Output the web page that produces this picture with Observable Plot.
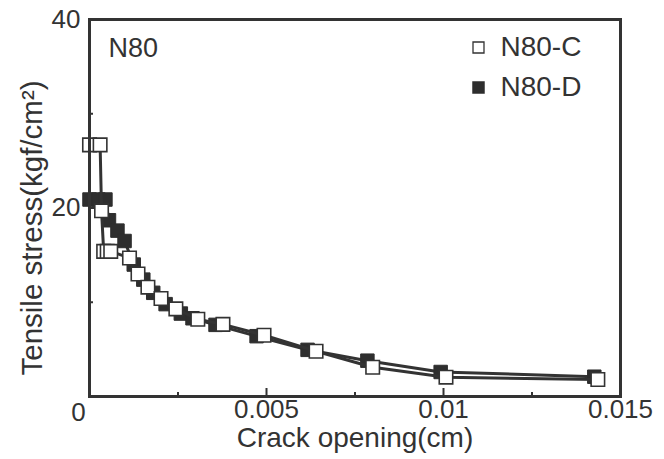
<!DOCTYPE html>
<html><head><meta charset="utf-8">
<script src="https://cdn.jsdelivr.net/npm/d3@7"></script>
<script src="https://cdn.jsdelivr.net/npm/@observablehq/plot@0.6"></script>
<style>body{margin:0;background:#fff} svg{font-family:"Liberation Sans",Arial,sans-serif}</style>
</head><body><div id="chart"></div>
<script>
// Series N80-C (open squares)
const cX = [0, 0.0003, 0.00034, 0.00040, 0.00050, 0.00060, 0.00113, 0.00137, 0.00165, 0.00202, 0.00244, 0.00306, 0.00377, 0.00493, 0.0064, 0.0080, 0.01007, 0.01436];
const cY = [26.7, 26.7, 19.7, 15.4, 15.4, 15.4, 14.7, 13.0, 11.6, 10.4, 9.3, 8.2, 7.65, 6.5, 4.8, 3.1, 2.05, 1.8];
// Series N80-D (filled squares)
const dX = [0, 0.00025, 0.00045, 0.00055, 0.00079, 0.00099, 0.00125, 0.00152, 0.00180, 0.00215, 0.00258, 0.00291, 0.00356, 0.00472, 0.00616, 0.00785, 0.00992, 0.01426];
const dY = [20.9, 20.9, 20.9, 18.7, 17.6, 16.5, 14.0, 12.4, 11.0, 9.8, 8.8, 8.3, 7.6, 6.4, 4.95, 3.8, 2.6, 2.1];

const seriesNames = ["N80-C", "N80-D"];
const xLabelTicks = [0.005, 0.01, 0.015];
const xOriginTick = [0];
const xMajorTicks = [0.005, 0.01];
const xMinorTicks = [0.0025, 0.0075, 0.0125];
const yLabelTicks = [20, 40];
const yMajorTicks = [20];
const yMinorTicks = [10, 30];
const xTitle = "Crack opening(cm)";
const yTitle = "Tensile stress(kgf/cm²)";
const panelTitle = "N80";

const ink = "#333";
const seriesC = cX.map((x, i) => ({series: seriesNames[0], x, y: cY[i]}));
const seriesD = dX.map((x, i) => ({series: seriesNames[1], x, y: dY[i]}));

const plot = Plot.plot({
  width: 664, height: 459,
  marginLeft: 89, marginRight: 44, marginTop: 19, marginBottom: 63,
  style: {fontFamily: "Liberation Sans, Arial, sans-serif", fontSize: "26px", color: ink, background: "#fff"},
  x: {domain: [0, 0.015], label: null},
  y: {domain: [0, 40], label: null},
  marks: [
    Plot.axisX(xLabelTicks, {tickSize: 0, tickPadding: 3, tickFormat: d => String(d), fontSize: 26, label: null}),
    Plot.axisX(xOriginTick, {tickSize: 0, tickPadding: 6, dx: -11, tickFormat: d => String(d), fontSize: 26, label: null}),
    Plot.axisX(xMajorTicks, {tickSize: -8, text: null, strokeWidth: 2, label: null}),
    Plot.axisX(xMinorTicks, {tickSize: -4, text: null, strokeWidth: 2, label: null}),
    Plot.axisY(yLabelTicks, {tickSize: 0, tickPadding: 9, fontSize: 26, label: null}),
    Plot.axisY(yMajorTicks, {tickSize: -8, text: null, strokeWidth: 2, label: null}),
    Plot.axisY(yMinorTicks, {tickSize: -4, text: null, strokeWidth: 2, label: null}),
    Plot.line(seriesD, {x: "x", y: "y", stroke: ink, strokeWidth: 3}),
    Plot.dot(seriesD, {x: "x", y: "y", symbol: "square", r: 7.6, fill: "#2e2e2e", stroke: "#2e2e2e", strokeWidth: 1}),
    Plot.line(seriesC, {x: "x", y: "y", stroke: ink, strokeWidth: 3}),
    Plot.dot(seriesC, {x: "x", y: "y", symbol: "square", r: 7.6, fill: "#fff", stroke: ink, strokeWidth: 1.6}),
    Plot.frame({stroke: ink, strokeWidth: 3}),
    Plot.text([panelTitle], {text: d => d, frameAnchor: "top-left", dx: 19, dy: 29, textAnchor: "start", lineAnchor: "middle", fontSize: 27, fill: ink}),
    Plot.dot([seriesNames[0]], {frameAnchor: "top-right", dx: -142, dy: 28, symbol: "square", r: 6.2, fill: "#fff", stroke: ink, strokeWidth: 1.3}),
    Plot.text([seriesNames[0]], {text: d => d, frameAnchor: "top-right", dx: -120, dy: 28, textAnchor: "start", lineAnchor: "middle", fontSize: 28, fill: ink}),
    Plot.dot([seriesNames[1]], {frameAnchor: "top-right", dx: -142, dy: 68, symbol: "square", r: 6.2, fill: "#2e2e2e", stroke: "#2e2e2e"}),
    Plot.text([seriesNames[1]], {text: d => d, frameAnchor: "top-right", dx: -120, dy: 68, textAnchor: "start", lineAnchor: "middle", fontSize: 28, fill: ink}),
    Plot.text([xTitle], {text: d => d, frameAnchor: "bottom", dy: 42, textAnchor: "middle", lineAnchor: "middle", fontSize: 28, fill: ink}),
    Plot.text([yTitle], {text: d => d, frameAnchor: "left", dx: -57, dy: 20, rotate: -90, textAnchor: "middle", lineAnchor: "middle", fontSize: 29.5, fill: ink})
  ]
});
document.getElementById("chart").appendChild(plot);
</script>
</body></html>
